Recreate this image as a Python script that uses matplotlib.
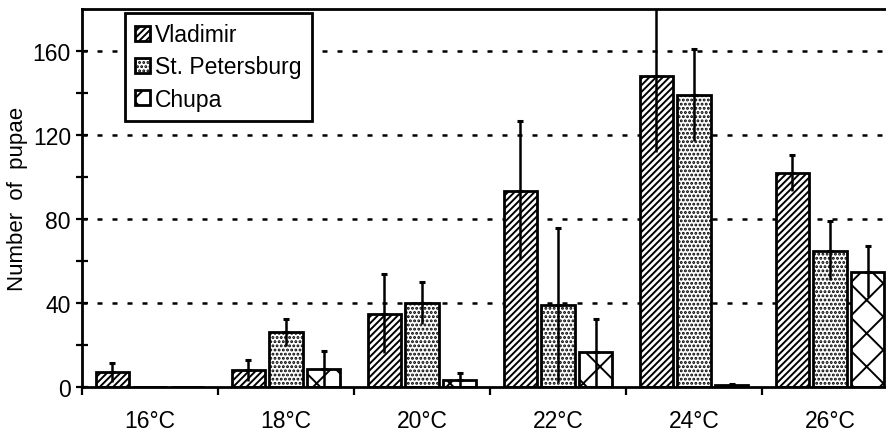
import numpy as np
import matplotlib.pyplot as plt

plt.rcParams['font.family'] = ['Liberation Sans', 'DejaVu Sans']
plt.rcParams['hatch.linewidth'] = 1.4

# data
temps = ['16°C', '18°C', '20°C', '22°C', '24°C', '26°C']
vladimir = [7, 8, 35, 93.5, 148, 102]
vladimir_err = [4.5, 5, 19, 33, 36, 8.5]
petersburg = [0, 26, 40, 39, 139, 65]
petersburg_err = [0, 6.5, 10, 36.5, 22, 14]
chupa = [0, 8.5, 3.5, 16.5, 1, 55]
chupa_err = [0, 8.5, 3, 16, 0.5, 12]

series = [
    ('Vladimir', vladimir, vladimir_err, '/////'),
    ('St. Petersburg', petersburg, petersburg_err, '....'),
    ('Chupa', chupa, chupa_err, 'x'),
]

fig = plt.figure(figsize=(8.86, 4.35), dpi=100)
ax = fig.add_axes([82 / 886, 47 / 435, 816 / 886, 378 / 435])

x = np.arange(len(temps)) + 0.5
width = 0.243
step = 0.276

handles = []
for i, (name, vals, errs, hatch) in enumerate(series):
    xs = x + (i - 1) * step
    b = ax.bar(xs, vals, width, facecolor='white', edgecolor='black',
               linewidth=2, hatch=hatch, label=name, zorder=2)
    handles.append(b)
    errs = np.array(errs, dtype=float)
    m = errs > 0
    # upper part with a cap, lower part without
    ax.errorbar(xs[m], np.array(vals)[m], yerr=[np.zeros(m.sum()), errs[m]],
                fmt='none', ecolor='black', elinewidth=1.8, capsize=2.5,
                capthick=2.2, zorder=3)
    ax.errorbar(xs[m], np.array(vals)[m], yerr=[errs[m], np.zeros(m.sum())],
                fmt='none', ecolor='black', elinewidth=1.8, capsize=0,
                zorder=3)

ax.set_xlim(0, 6)
ax.set_ylim(0, 180)

for yv in [40, 80, 120, 160]:
    ax.axhline(yv, color='black', lw=1.8, linestyle=(0, (2, 4)), zorder=1)

ax.set_yticks([0, 40, 80, 120, 160])
ax.set_yticks([20, 60, 100, 140], minor=True)
ax.tick_params(axis='y', which='both', direction='inout', length=8, width=1.6,
               labelsize=16.5, pad=4)

ax.set_xticks(np.arange(0, 7))
ax.set_xticklabels([])
ax.set_xticks(x, minor=True)
ax.set_xticklabels(temps, minor=True)
ax.tick_params(axis='x', which='minor', length=0, labelsize=16.5, pad=16)
ax.tick_params(axis='x', which='major', direction='out', length=6, width=1.6)

for s in ['left', 'bottom', 'top']:
    ax.spines[s].set_linewidth(2)
ax.spines['right'].set_visible(False)

ax.set_ylabel('Number  of  pupae', fontsize=16, labelpad=3)

leg = ax.legend(handles=handles, loc='upper left',
                bbox_to_anchor=(125 / 886, 1 - 14 / 435),
                bbox_transform=fig.transFigure, fontsize=16.5,
                frameon=True, fancybox=False, framealpha=1, borderpad=0.45,
                handlelength=0.65, handleheight=0.65, handletextpad=0.2,
                labelspacing=0.4, borderaxespad=0)
leg.get_frame().set_edgecolor('black')
leg.get_frame().set_linewidth(2)
leg.set_zorder(5)

fig.savefig('out.png', dpi=100)
